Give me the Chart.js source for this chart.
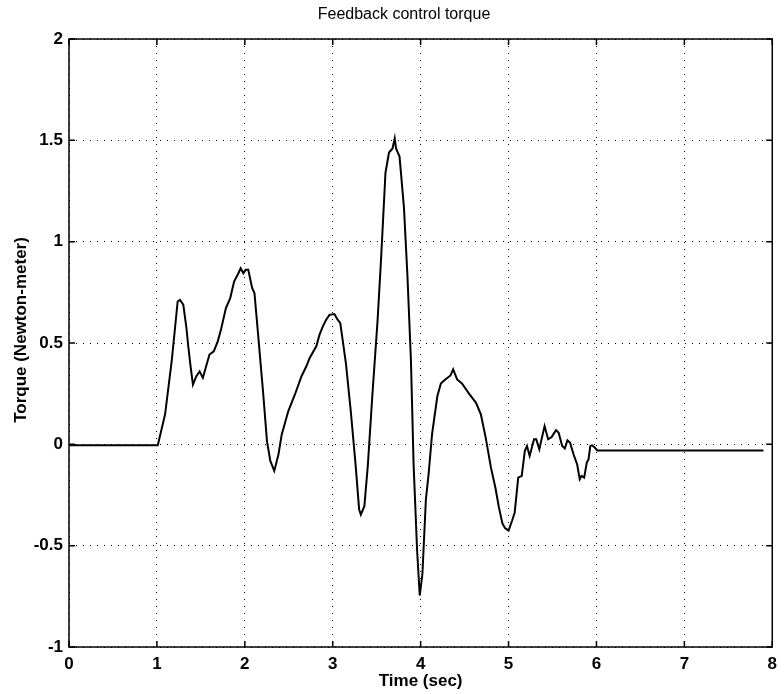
<!DOCTYPE html>
<html>
<head>
<meta charset="utf-8">
<title>Feedback control torque</title>
<script src="https://cdn.jsdelivr.net/npm/chart.js@4/dist/chart.umd.min.js"></script>
<style>
    html, body { margin: 0; padding: 0; background: #fff; }
    #wrap { position: relative; width: 784px; height: 694px; }
</style>
</head>
<body>
<div id="wrap"><canvas id="torque-chart"></canvas></div>
<script>
'use strict';

// Chart data
const titleText = 'Feedback control torque';
const xLabel = 'Time (sec)';
const yLabel = 'Torque (Newton-meter)';
const xTicks = [0, 1, 2, 3, 4, 5, 6, 7, 8];
const yTicks = [-1, -0.5, 0, 0.5, 1, 1.5, 2];

const timeSec = [
    0, 1.0, 1.01, 1.093, 1.168, 1.206, 1.236, 1.262, 1.30, 1.336,
    1.355, 1.385, 1.41, 1.449, 1.486, 1.523, 1.56, 1.598, 1.647, 1.692,
    1.729, 1.785, 1.834, 1.878, 1.927, 1.953, 1.983, 2.009, 2.039, 2.084,
    2.11, 2.148, 2.207, 2.252, 2.29, 2.335, 2.383, 2.42, 2.495, 2.57,
    2.645, 2.70, 2.738, 2.813, 2.85, 2.888, 2.925, 2.963, 3.019, 3.056,
    3.086, 3.15, 3.206, 3.26, 3.30, 3.32, 3.36, 3.40, 3.45, 3.51,
    3.55, 3.60, 3.64, 3.68, 3.705, 3.72, 3.76, 3.81, 3.85, 3.89,
    3.92, 3.96, 3.99, 4.02, 4.06, 4.09, 4.13, 4.19, 4.23, 4.28,
    4.34, 4.37, 4.415, 4.47, 4.55, 4.63, 4.685, 4.74, 4.80, 4.85,
    4.89, 4.93, 4.96, 5.0, 5.04, 5.07, 5.11, 5.15, 5.185, 5.21,
    5.24, 5.29, 5.315, 5.35, 5.38, 5.41, 5.45, 5.49, 5.54, 5.57,
    5.61, 5.64, 5.67, 5.70, 5.74, 5.78, 5.81, 5.83, 5.86, 5.89,
    5.91, 5.93, 5.95, 5.98, 6.01, 7.9
];

const torque = [
    -0.005, -0.005, -0.005, 0.148, 0.41, 0.574, 0.705, 0.713, 0.689, 0.574,
    0.49, 0.377, 0.295, 0.336, 0.36, 0.328, 0.385, 0.443, 0.459, 0.508,
    0.566, 0.672, 0.721, 0.803, 0.844, 0.869, 0.844, 0.861, 0.861, 0.77,
    0.746, 0.557, 0.262, 0.016, -0.082, -0.131, -0.049, 0.049, 0.164, 0.246,
    0.336, 0.385, 0.426, 0.484, 0.541, 0.582, 0.615, 0.639, 0.643, 0.615,
    0.598, 0.40, 0.16, -0.10, -0.32, -0.347, -0.305, -0.10, 0.237, 0.61,
    0.915, 1.34, 1.44, 1.46, 1.51, 1.46, 1.42, 1.17, 0.83, 0.41,
    -0.10, -0.525, -0.746, -0.64, -0.27, -0.15, 0.05, 0.237, 0.30, 0.32,
    0.34, 0.37, 0.32, 0.30, 0.25, 0.205, 0.148, 0.033, -0.115, -0.213,
    -0.31, -0.39, -0.413, -0.426, -0.377, -0.336, -0.164, -0.156, -0.033, -0.008,
    -0.057, 0.025, 0.025, -0.025, 0.033, 0.09, 0.025, 0.036, 0.07, 0.057,
    -0.008, -0.02, 0.02, 0.008, -0.05, -0.098, -0.172, -0.156, -0.164, -0.09,
    -0.074, -0.008, -0.005, -0.016, -0.03, -0.03
];

const FONT = '"Liberation Sans", Arial, Helvetica, sans-serif';

// Frame, inward tick marks, title and y label, drawn on top like a MATLAB axes box
const axesBoxPlugin = {
    id: 'axesBox',
    afterDraw(chart) {
        const ctx = chart.ctx;
        const area = chart.chartArea;
        const xs = chart.scales.x;
        const ys = chart.scales.y;
        const len = 6;

        ctx.save();
        ctx.strokeStyle = '#000';
        ctx.lineWidth = 1.5;
        ctx.strokeRect(area.left, area.top, area.right - area.left, area.bottom - area.top);

        ctx.beginPath();
        xTicks.forEach(function(v) {
            const px = xs.getPixelForValue(v);
            ctx.moveTo(px, area.bottom);
            ctx.lineTo(px, area.bottom - len);
            ctx.moveTo(px, area.top);
            ctx.lineTo(px, area.top + len);
        });
        yTicks.forEach(function(v) {
            const py = ys.getPixelForValue(v);
            ctx.moveTo(area.left, py);
            ctx.lineTo(area.left + len, py);
            ctx.moveTo(area.right, py);
            ctx.lineTo(area.right - len, py);
        });
        ctx.stroke();

        ctx.fillStyle = '#000';
        ctx.textAlign = 'center';
        ctx.textBaseline = 'middle';

        // Title
        ctx.font = '16px ' + FONT;
        ctx.fillText(titleText, 404, 15);

        // Y axis label (sits a bit above the axis middle in the original)
        ctx.translate(21, 330);
        ctx.rotate(-Math.PI / 2);
        ctx.font = 'bold 17px ' + FONT;
        ctx.fillText(yLabel, 0, 0);
        ctx.restore();
    }
};

function createTorqueChart() {
    const ctx = document.getElementById('torque-chart').getContext('2d');
    const points = timeSec.map(function(t, i) {
        return { x: t, y: torque[i] };
    });

    return new Chart(ctx, {
        type: 'scatter',
        data: {
            datasets: [{
                data: points,
                showLine: true,
                borderColor: '#000',
                borderWidth: 2,
                pointRadius: 0,
                tension: 0
            }]
        },
        options: {
            responsive: true,
            maintainAspectRatio: false,
            animation: false,
            layout: {
                padding: { top: 39, right: 3, left: 0, bottom: 0 }
            },
            plugins: {
                legend: { display: false },
                tooltip: { enabled: false }
            },
            scales: {
                x: {
                    type: 'linear',
                    min: 0,
                    max: 8,
                    afterFit: function(scale) { scale.height = 47; },
                    afterBuildTicks: function(scale) {
                        scale.ticks = xTicks.map(function(v) { return { value: v }; });
                    },
                    ticks: {
                        color: '#000',
                        padding: 7,
                        maxRotation: 0,
                        font: { family: FONT, size: 17, weight: 'bold' }
                    },
                    grid: { color: '#000', lineWidth: 1, drawTicks: false },
                    border: { display: false, dash: [1, 6] },
                    title: {
                        display: true,
                        text: xLabel,
                        color: '#000',
                        padding: { top: 0, bottom: 2 },
                        font: { family: FONT, size: 17, weight: 'bold' }
                    }
                },
                y: {
                    type: 'linear',
                    min: -1,
                    max: 2,
                    afterFit: function(scale) { scale.width = 69; },
                    afterBuildTicks: function(scale) {
                        scale.ticks = yTicks.map(function(v) { return { value: v }; });
                    },
                    ticks: {
                        color: '#000',
                        padding: 6,
                        font: { family: FONT, size: 17, weight: 'bold' },
                        callback: function(v) { return String(v); }
                    },
                    grid: { color: '#000', lineWidth: 1, drawTicks: false },
                    border: { display: false, dash: [1, 6] },
                    title: { display: false }
                }
            }
        },
        plugins: [axesBoxPlugin]
    });
}

createTorqueChart();
</script>
</body>
</html>
